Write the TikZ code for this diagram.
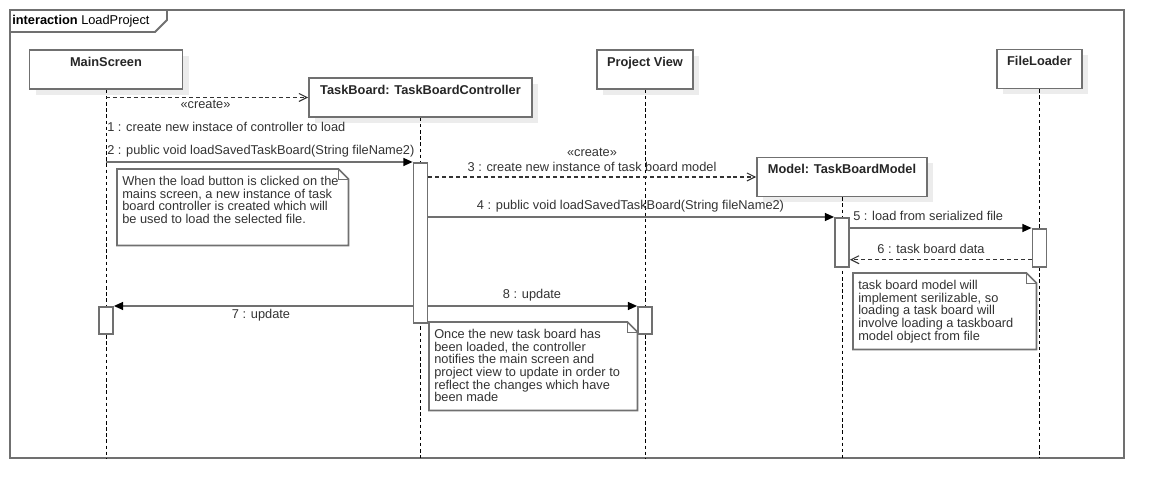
\documentclass[tikz,border=0pt]{standalone}
\usepackage{fontspec}
\setmainfont{Liberation Sans}
\usetikzlibrary{arrows.meta,shadows}

\definecolor{umlgray}{RGB}{112,112,112}
\definecolor{umltext}{RGB}{51,51,51}
\definecolor{umlshadow}{RGB}{236,236,236}
\newcommand{\umlsize}{\fontsize{9.6}{9.6}\selectfont}

\tikzset{
  framebox/.style={draw=umlgray, line width=1.4pt},
  objbox/.style={draw=umlgray, line width=1.3pt, fill=white, inner sep=0pt, minimum height=29.25pt,
    drop shadow={shadow xshift=4.5pt, shadow yshift=-4.5pt, fill=umlshadow, opacity=1}},
  header/.style={anchor=north, font=\umlsize\bfseries, text=black!85, inner sep=0pt, yshift=-5.5pt},
  lifeline/.style={draw=black, line width=0.6pt, dash pattern=on 2.6pt off 2pt},
  act/.style={draw=umlgray, line width=1.3pt, fill=white, anchor=north, inner sep=0pt, minimum width=10.5pt},
  call/.style={draw=umlgray, line width=1.1pt, -{Triangle[length=7pt,width=6pt,fill=black,color=black]}},
  create/.style={draw=umltext, line width=1pt, dash pattern=on 3pt off 2.2pt, -{Straight Barb[length=6pt,width=6pt,line width=0.8pt]}},
  reply/.style={create},
  msglabel/.style={inner sep=0pt, text=umltext},
  notebox/.style={anchor=north west, inner sep=0pt},
  noteline/.style={draw=umlgray, line width=1.2pt, fill=white},
  foldline/.style={draw=umlgray, line width=0.6pt},
  notetext/.style={anchor=north west, inner sep=0pt, align=left, text=umltext,
    font=\fontsize{9.6}{9.4}\selectfont}
}

\begin{document}
\begin{tikzpicture}[x=0.75pt, y=-0.75pt, font=\umlsize]
\useasboundingbox (0,0) rectangle (1165,498);

% interaction frame
\draw[framebox] (10,10) rectangle (1124,458);
\draw[framebox] (10,32) -- (155,32) -- (167,20) -- (167,10);
\node[anchor=west, inner sep=0pt] (title) at (12,21) {\textbf{interaction} LoadProject};

% objects
\node[objbox, minimum width=114.75pt, label={[header]north:MainScreen}] (main) at (106,69.5) {};
\node[objbox, minimum width=167.25pt, label={[header]north:TaskBoard: TaskBoardController}] (tb) at (420.5,97.5) {};
\node[objbox, minimum width=72pt, label={[header]north:Project View}] (pv) at (645,69.5) {};
\node[objbox, minimum width=127.5pt, label={[header]north:Model: TaskBoardModel}] (model) at (842,177) {};
\node[objbox, minimum width=63.75pt, label={[header]north:FileLoader}] (fl) at (1039.5,69) {};

% lifelines
\coordinate (bot) at (0,458);
\foreach \obj in {main,tb,pv,model,fl}
  \draw[lifeline] (\obj.south) -- (\obj.south |- bot);

% activations
\node[act, minimum height=120pt] (tbact) at (420.5,162) {};
\node[act, minimum height=36.75pt] (modact) at (842,217) {};
\node[act, minimum height=28.5pt] (flact) at (1039.5,228) {};
\node[act, minimum height=20.25pt] (msact) at (106,306) {};
\node[act, minimum height=20.25pt] (pvact) at (645,306) {};

% messages
\draw[create] (main.south |- tb.west) -- (tb.west);
\node[msglabel] (m1a) at (205.5,104) {«create»};
\node[msglabel, anchor=west] (m1b) at (107,127) {1 : create new instace of controller to load};

\draw[call] (main.south |- tbact.north) -- (tbact.north west);
\node[msglabel, anchor=west] (m2) at (107,151.5) {2 : public void loadSavedTaskBoard(String fileName2)};

\draw[create] (tbact.east |- model.west) -- (model.west);
\node[msglabel] (m3a) at (592,152.5) {«create»};
\node[msglabel] (m3b) at (592,167) {3 : create new instance of task board model};

\draw[call] (tbact.east |- modact.north) -- (modact.north west);
\node[msglabel] (m4) at (630.5,206.5) {4 : public void loadSavedTaskBoard(String fileName2)};

\draw[call] (modact.east |- flact.north) -- (flact.north west);
\node[msglabel, anchor=west] (m5) at (853,216) {5 : load from serialized file};

\draw[reply] ([yshift=6pt]flact.south west) -- ([yshift=6pt]modact.south east);
\node[msglabel] (m6) at (931,249) {6 : task board data};

\draw[call] (tbact.west |- msact.north) -- (msact.north east);
\node[msglabel] (m7) at (261,315) {7 : update};

\draw[call] (tbact.east |- pvact.north) -- (pvact.north west);
\node[msglabel] (m8) at (532,295.5) {8 : update};

% notes
\node[notebox, minimum width=173.25pt, minimum height=57pt] (note1) at (117,169) {};
\draw[noteline] (note1.north west) -- ([xshift=-7.5pt]note1.north east) -- ([yshift=-7.5pt]note1.north east) -- (note1.south east) -- (note1.south west) -- cycle;
\draw[foldline] ([xshift=-7.5pt]note1.north east) |- ([yshift=-7.5pt]note1.north east);
\node[notetext] (note1txt) at ([xshift=3.75pt,yshift=-5.5pt]note1.north west)
  {When the load button is clicked on the\\mains screen, a new instance of task\\board controller is created which will\\be used to load the selected file.};

\node[notebox, minimum width=156pt, minimum height=66pt] (note2) at (429,322) {};
\draw[noteline] (note2.north west) -- ([xshift=-7.5pt]note2.north east) -- ([yshift=-7.5pt]note2.north east) -- (note2.south east) -- (note2.south west) -- cycle;
\draw[foldline] ([xshift=-7.5pt]note2.north east) |- ([yshift=-7.5pt]note2.north east);
\node[notetext] (note2txt) at ([xshift=3.75pt,yshift=-5.5pt]note2.north west)
  {Once the new task board has\\been loaded, the controller\\notifies the main screen and\\project view to update in order to\\reflect the changes which have\\been made};

\node[notebox, minimum width=137.25pt, minimum height=57pt] (note3) at (853,273) {};
\draw[noteline] (note3.north west) -- ([xshift=-7.5pt]note3.north east) -- ([yshift=-7.5pt]note3.north east) -- (note3.south east) -- (note3.south west) -- cycle;
\draw[foldline] ([xshift=-7.5pt]note3.north east) |- ([yshift=-7.5pt]note3.north east);
\node[notetext] (note3txt) at ([xshift=3.75pt,yshift=-5.5pt]note3.north west)
  {task board model will\\implement serilizable, so\\loading a task board will\\involve loading a taskboard\\model object from file};

\end{tikzpicture}
\end{document}
